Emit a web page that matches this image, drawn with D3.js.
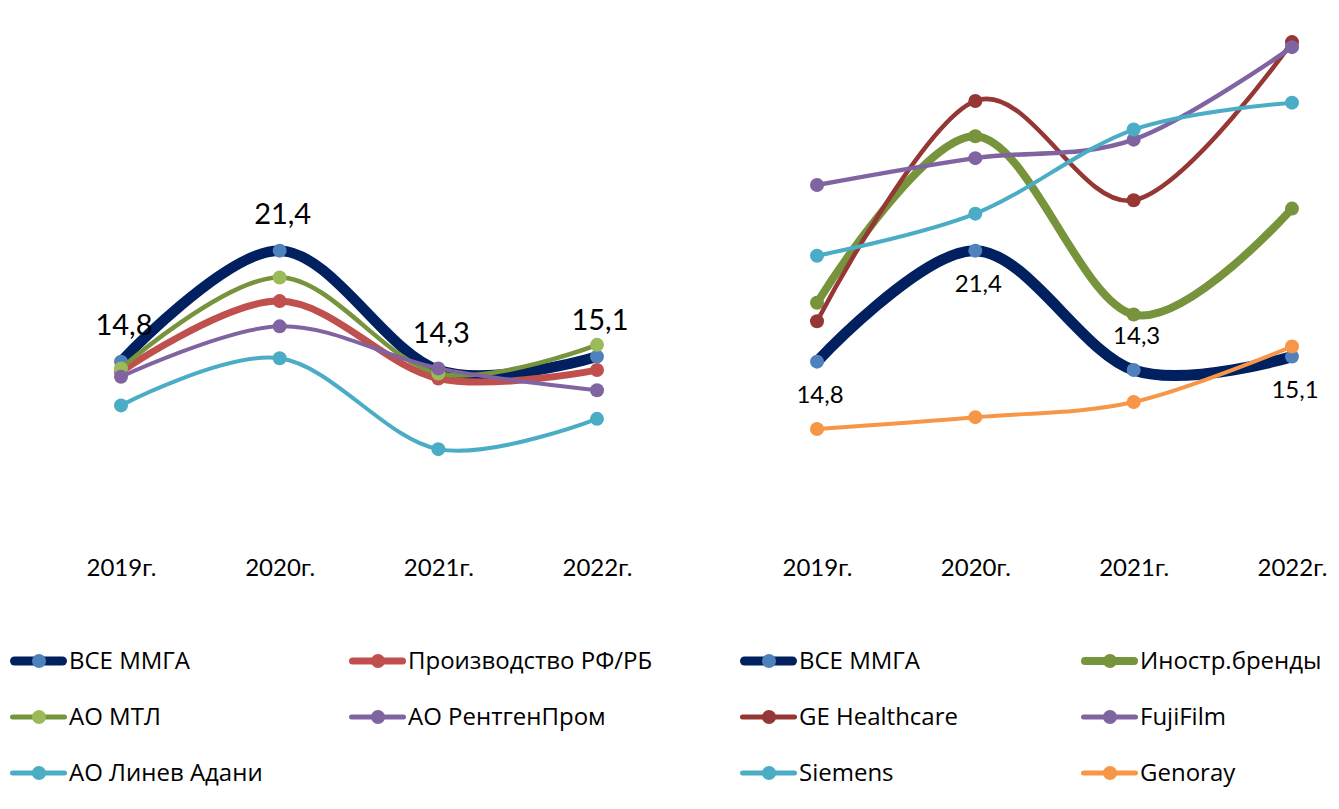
<!DOCTYPE html>
<html><head><meta charset="utf-8">
<script src="https://cdn.jsdelivr.net/npm/d3@7"></script>
<style>
html,body{margin:0;padding:0;background:#fff;}
svg{display:block;}
</style></head>
<body>
<svg id="chart" width="1339" height="809"></svg>
<script>
// ---- data ----
const years = ["2019г.", "2020г.", "2021г.", "2022г."];
const allMMGA = [14.8, 21.4, 14.3, 15.1];
const prodRFRB = [14.2, 18.4, 13.8, 14.3];
const mtl = [14.4, 19.8, 14.1, 15.8];
const rentgenProm = [13.9, 16.9, 14.4, 13.1];
const linevAdani = [12.2, 15.0, 9.6, 11.4];
const foreignBrands = [18.3, 28.2, 17.6, 23.9];
const geHealthcare = [17.2, 30.3, 24.4, 33.8];
const fujiFilm = [25.3, 26.9, 28.0, 33.5];
const siemens = [21.1, 23.6, 28.6, 30.2];
const genoray = [10.8, 11.5, 12.4, 15.7];
const leftNames = ["ВСЕ ММГА", "Производство РФ/РБ", "АО МТЛ", "АО РентгенПром", "АО Линев Адани"];
const rightNames = ["ВСЕ ММГА", "Иностр.бренды", "GE Healthcare", "FujiFilm", "Siemens", "Genoray"];
const rightLabelPos = ["below", "below", "above", "below"];

// ---- styles ----
const NAVY = "#002060", NAVYM = "#4F81BD";
const leftSeries = [
  {name: leftNames[0], values: allMMGA, line: NAVY, marker: NAVYM, w: 10.5},
  {name: leftNames[1], values: prodRFRB, line: "#C0504D", marker: "#C0504D", w: 7},
  {name: leftNames[2], values: mtl, line: "#77933C", marker: "#9BBB59", w: 4.5},
  {name: leftNames[3], values: rentgenProm, line: "#8064A2", marker: "#8064A2", w: 4},
  {name: leftNames[4], values: linevAdani, line: "#4BACC6", marker: "#4BACC6", w: 4}
];
const rightSeries = [
  {name: rightNames[0], values: allMMGA, line: NAVY, marker: NAVYM, w: 11},
  {name: rightNames[1], values: foreignBrands, line: "#77933C", marker: "#77933C", w: 8},
  {name: rightNames[2], values: geHealthcare, line: "#953735", marker: "#953735", w: 4.5},
  {name: rightNames[3], values: fujiFilm, line: "#8064A2", marker: "#8064A2", w: 4.5},
  {name: rightNames[4], values: siemens, line: "#4BACC6", marker: "#4BACC6", w: 4},
  {name: rightNames[5], values: genoray, line: "#F79646", marker: "#F79646", w: 4}
];

const svg = d3.select("#chart");
const numFont = "Lato, 'Open Sans', sans-serif";
const legFont = "'Open Sans', 'Noto Sans', sans-serif";

const y = d3.scaleLinear().domain([5, 35]).range([526.5, 21.9]);
const xL = d3.scalePoint().domain(years).range([121, 597]);
const xR = d3.scalePoint().domain(years).range([817, 1292]);

function drawPanel(x, series) {
  const g = svg.append("g");
  const line = d3.line()
    .x((d, i) => x(years[i]))
    .y(d => y(d))
    .curve(d3.curveCatmullRom.alpha(0));
  series.forEach(s => {
    const sg = g.append("g");
    sg.append("path").attr("d", line(s.values))
      .attr("fill", "none").attr("stroke", s.line)
      .attr("stroke-width", s.w).attr("stroke-linecap", "round").attr("stroke-linejoin", "round");
    sg.selectAll("circle").data(s.values).join("circle")
      .attr("cx", (d, i) => x(years[i])).attr("cy", d => y(d))
      .attr("r", 7).attr("fill", s.marker);
  });
  // x axis labels
  const ax = g.append("g").attr("transform", "translate(0,576)")
    .call(d3.axisBottom(x).tickSize(0).tickPadding(0));
  ax.select(".domain").remove();
  ax.selectAll("text").attr("font-family", numFont).attr("font-size", 24)
    .attr("fill", "#000").attr("dy", 0);
  return g;
}

const gl = drawPanel(xL, leftSeries);
const gr = drawPanel(xR, rightSeries);

const fmt = v => d3.format(".1f")(v).replace(".", ",");
gl.selectAll("text.lbl").data(allMMGA).join("text").attr("class", "lbl")
  .attr("x", (d, i) => xL(years[i]) + 3).attr("y", d => y(d) - 27)
  .attr("text-anchor", "middle").attr("font-family", numFont).attr("font-size", 29)
  .attr("fill", "#000").text(fmt);
gr.selectAll("text.lbl").data(allMMGA).join("text").attr("class", "lbl")
  .attr("x", (d, i) => xR(years[i]) + 3)
  .attr("y", (d, i) => rightLabelPos[i] === "below" ? y(d) + 41 : y(d) - 26)
  .attr("text-anchor", "middle").attr("font-family", numFont).attr("font-size", 24)
  .attr("fill", "#000").text(fmt);

// ---- legend ----
const legendItems = [
  {s: leftSeries[0], col: 0, row: 0}, {s: leftSeries[1], col: 1, row: 0},
  {s: leftSeries[2], col: 0, row: 1}, {s: leftSeries[3], col: 1, row: 1},
  {s: leftSeries[4], col: 0, row: 2},
  {s: rightSeries[0], col: 2, row: 0}, {s: rightSeries[1], col: 3, row: 0},
  {s: rightSeries[2], col: 2, row: 1}, {s: rightSeries[3], col: 3, row: 1},
  {s: rightSeries[4], col: 2, row: 2}, {s: rightSeries[5], col: 3, row: 2}
];
const colX = [10, 349, 740, 1081];
const rowY = [661, 717, 773];
const lg = svg.append("g");
legendItems.forEach(it => {
  const x0 = colX[it.col], yy = rowY[it.row];
  const w = Math.min(Math.max(it.s.w, 5), 9);
  const g = lg.append("g");
  g.append("line").attr("x1", x0 + w / 2).attr("x2", x0 + 57 - w / 2).attr("y1", yy).attr("y2", yy)
    .attr("stroke", it.s.line).attr("stroke-width", w).attr("stroke-linecap", "round");
  g.append("circle").attr("cx", x0 + 29).attr("cy", yy).attr("r", 7).attr("fill", it.s.marker);
  g.append("text").attr("x", x0 + 59).attr("y", yy + 8).attr("font-family", legFont)
    .attr("font-size", 24).attr("fill", "#000").text(it.s.name);
});
</script>
</body></html>
